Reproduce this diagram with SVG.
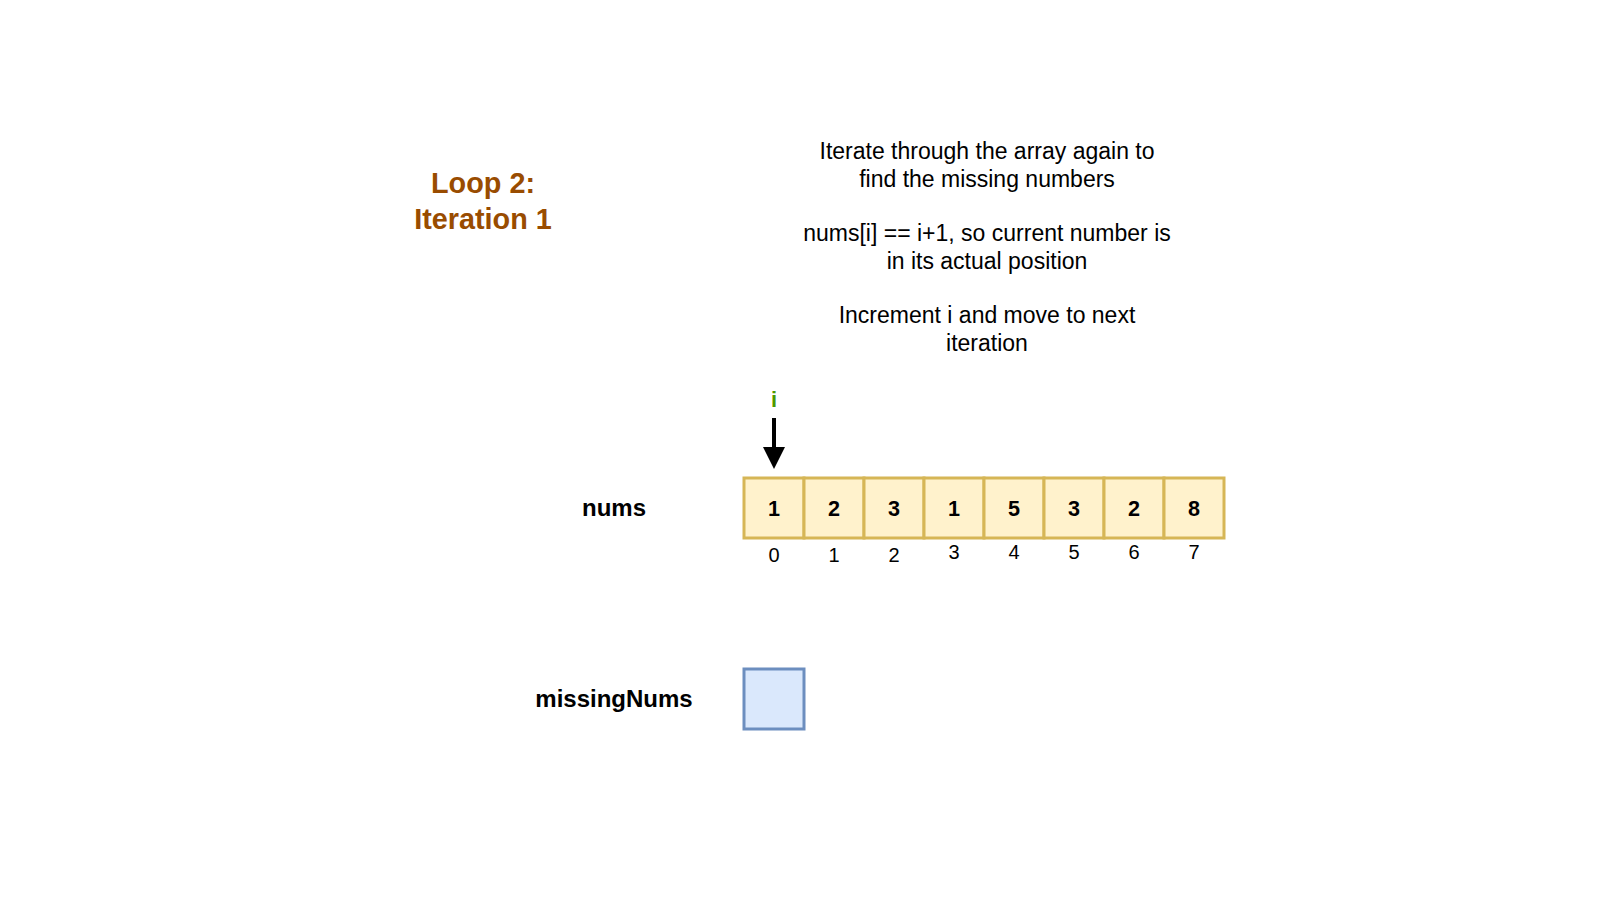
<svg xmlns="http://www.w3.org/2000/svg" width="1600" height="900" viewBox="0 0 1600 900">
  <style>
    text { font-family: "Liberation Sans", Arial, Helvetica, sans-serif; }
    .title { font-size: 28.8px; font-weight: bold; fill: #994C00; text-anchor: middle; }
    .desc { font-size: 23px; fill: #000000; text-anchor: middle; }
    .label { font-size: 24px; font-weight: bold; fill: #000000; text-anchor: middle; }
    .cell { fill: #fff2cc; stroke: #d6b656; stroke-width: 3; }
    .val { font-size: 21.6px; font-weight: bold; fill: #000000; text-anchor: middle; }
    .idx { font-size: 20px; fill: #000000; text-anchor: middle; }
    .blue { fill: #dae8fc; stroke: #6c8ebf; stroke-width: 3; }
    .ptr { font-size: 22px; font-weight: bold; fill: #4D9900; text-anchor: middle; }
    .edge { stroke: #000000; stroke-width: 4; fill: none; }
  </style>
  <defs>
    <marker id="arrowhead" markerUnits="userSpaceOnUse" markerWidth="24" markerHeight="24" viewBox="0 0 24 24" refX="0" refY="12" orient="auto">
      <path d="M0,1 L22,12 L0,23 Z" fill="#000000"/>
    </marker>
  </defs>
  <rect width="1600" height="900" fill="#ffffff"/>

  <g id="title">
    <text class="title" x="483" y="193.3">Loop 2:</text>
    <text class="title" x="483" y="229.3">Iteration 1</text>
  </g>

  <g id="description">
    <text class="desc" x="987" y="159">Iterate through the array again to</text>
    <text class="desc" x="987" y="186.5">find the missing numbers</text>
    <text class="desc" x="987" y="241">nums[i] == i+1, so current number is</text>
    <text class="desc" x="987" y="268.5">in its actual position</text>
    <text class="desc" x="987" y="323">Increment i and move to next</text>
    <text class="desc" x="987" y="350.5">iteration</text>
  </g>

  <g id="pointer-i">
    <text class="ptr" x="774" y="407">i</text>
  </g>

  <g id="connectors">
    <path class="edge" d="M774,418 L774,447" marker-end="url(#arrowhead)"/>
  </g>

  <g id="nums-label">
    <text class="label" x="614" y="516">nums</text>
  </g>

  <g id="nums-array">
    <g id="cell-0"><rect class="cell" x="744" y="478" width="60" height="60"/><text class="val" x="774" y="516">1</text><text class="idx" x="774" y="561.5">0</text></g>
    <g id="cell-1"><rect class="cell" x="804" y="478" width="60" height="60"/><text class="val" x="834" y="516">2</text><text class="idx" x="834" y="561.5">1</text></g>
    <g id="cell-2"><rect class="cell" x="864" y="478" width="60" height="60"/><text class="val" x="894" y="516">3</text><text class="idx" x="894" y="561.5">2</text></g>
    <g id="cell-3"><rect class="cell" x="924" y="478" width="60" height="60"/><text class="val" x="954" y="516">1</text><text class="idx" x="954" y="559">3</text></g>
    <g id="cell-4"><rect class="cell" x="984" y="478" width="60" height="60"/><text class="val" x="1014" y="516">5</text><text class="idx" x="1014" y="559">4</text></g>
    <g id="cell-5"><rect class="cell" x="1044" y="478" width="60" height="60"/><text class="val" x="1074" y="516">3</text><text class="idx" x="1074" y="559">5</text></g>
    <g id="cell-6"><rect class="cell" x="1104" y="478" width="60" height="60"/><text class="val" x="1134" y="516">2</text><text class="idx" x="1134" y="559">6</text></g>
    <g id="cell-7"><rect class="cell" x="1164" y="478" width="60" height="60"/><text class="val" x="1194" y="516">8</text><text class="idx" x="1194" y="559">7</text></g>
  </g>

  <g id="missingNums-label">
    <text class="label" x="614" y="707">missingNums</text>
  </g>

  <g id="missingNums-array">
    <rect class="blue" x="744" y="669" width="60" height="60"/>
  </g>
</svg>
